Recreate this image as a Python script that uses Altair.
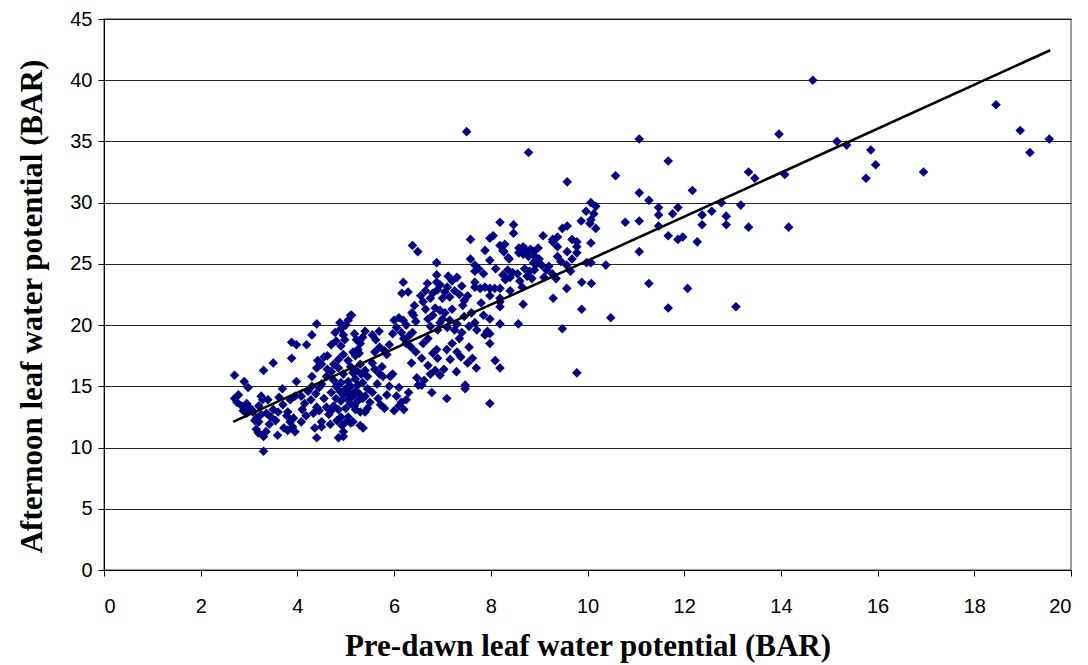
import altair as alt
import pandas as pd

# (pre-dawn, afternoon) readings, grouped by pre-dawn range
group_a = [(2.70,15.9),(2.70,14.0),(2.78,14.3),(2.90,15.4),(2.98,14.9),(2.75,13.7),(2.85,13.4),(2.95,13.6),
           (2.88,13.0),(3.00,13.3),(2.95,12.8),(3.05,13.1),(3.08,12.9),(3.15,12.4),(3.20,12.1),(3.25,12.7),
           (3.12,12.2),(3.20,13.4),(3.28,13.9),(3.25,14.2),(3.39,13.9),(3.36,12.8),(3.19,11.2),(3.30,10.9),
           (3.30,9.7),(3.30,16.3),(3.50,16.9),(3.50,13.1),(3.45,12.5),(3.42,11.9),(3.15,11.5),(3.35,11.3)]
group_b = [(3.59,11.0),(3.69,14.8),(3.55,12.2),(3.60,12.9),(3.78,12.6),(3.85,12.1),(3.80,11.4),(3.90,11.7),
           (3.95,11.3),(3.72,11.6),(3.98,15.4),(3.88,17.3),(3.88,18.6),(3.98,18.4),(3.70,13.5),(3.85,13.9),
           (3.95,14.2),(3.62,14.1),(3.80,12.9),(3.92,12.4)]
group_c = [(4.19,18.4),(4.30,19.2),(4.40,20.1),(4.08,14.2),(4.10,13.1),(4.15,13.6),(4.08,12.1),(4.18,12.6),
           (4.33,12.8),(4.40,13.3),(4.45,13.0),(4.36,11.6),(4.40,10.8),(4.50,12.1),(4.50,11.7),(4.30,15.8),
           (4.40,16.5),(4.50,16.8),(4.42,17.1),(4.55,17.4),(4.30,15.0),(4.45,14.9),(4.50,15.2),(4.38,14.4),
           (4.22,14.6),(4.28,13.9)]
group_d = [(4.62,17.5),(4.70,18.4),(4.80,18.7),(4.90,18.3),(4.95,17.6),(4.90,19.7),(5.00,20.0),(5.05,20.4),
           (5.10,20.8),(4.95,19.2),(4.70,16.2),(4.75,15.5),(4.80,15.0),(4.70,14.5),(4.80,14.0),(4.75,13.4),
           (4.85,13.1),(4.90,12.5),(4.92,11.8),(4.95,10.9),(4.85,16.5),(4.95,16.0),(4.90,15.3),(5.00,14.8),
           (4.95,14.3),(4.90,13.8),(5.00,13.2),(4.60,13.3),(4.65,12.7),(4.55,14.0),(4.60,15.8),(4.85,17.2),
           (4.75,16.8),(4.88,14.6),(4.82,12.2),(4.68,11.9),(4.98,12.0),(4.95,11.3),(4.85,10.8),(4.70,13.0),
           (4.62,16.4),(4.78,19.4),(4.88,20.2),(4.98,18.8)]
group_e = [(5.05,17.1),(5.10,16.6),(5.15,16.1),(5.20,15.6),(5.05,15.4),(5.10,15.0),(5.20,14.6),(5.15,14.2),
           (5.25,13.8),(5.10,13.6),(5.20,13.1),(5.30,12.9),(5.05,12.5),(5.15,12.1),(5.30,11.8),(5.36,11.6),
           (5.20,17.5),(5.25,18.0),(5.30,18.5),(5.35,19.0),(5.40,19.5),(5.30,16.8),(5.40,16.3),(5.45,15.8),
           (5.35,15.3),(5.45,14.8),(5.40,14.2),(5.50,13.7),(5.45,13.2),(5.12,20.8),(5.18,19.3),(5.22,18.8),
           (5.28,17.7),(5.08,14.4),(5.18,13.4),(5.25,15.1),(5.35,14.0),(5.05,13.9),(5.15,17.8),(5.40,12.9),
           (5.10,12.0),(5.22,16.3),(5.32,16.0),(5.28,14.4)]
group_f = [(5.55,16.9),(5.60,16.4),(5.70,16.0),(5.77,15.8),(5.65,15.2),(5.67,14.0),(5.60,17.8),(5.70,18.2),
           (5.80,17.9),(5.90,18.4),(5.69,19.5),(5.55,14.5),(5.72,13.5),(5.85,14.3),(5.90,15.0),(5.97,16.0),
           (5.97,19.3),(5.55,19.2),(5.85,17.6),(5.75,16.6),(5.62,18.8),(5.80,13.2),(5.92,15.8)]
group_g = [(6.00,20.4),(6.05,19.8),(6.10,20.6),(6.19,20.4),(6.15,19.4),(6.20,18.9),(6.25,18.5),(6.30,19.1),
           (6.35,18.2),(6.45,17.8),(6.38,19.4),(6.36,16.9),(6.47,15.7),(6.50,15.1),(6.10,14.9),(6.05,14.2),
           (6.15,13.7),(6.20,13.1),(6.25,13.9),(6.10,13.4),(6.38,26.5),(6.49,26.0),(6.19,23.5),(6.16,22.6),
           (6.29,22.7),(6.37,21.0),(6.42,21.6),(6.45,20.3),(6.00,13.0),(6.30,14.5),(6.40,20.8),(6.25,20.0)]
group_h = [(6.57,17.3),(6.57,15.1),(6.60,21.9),(6.65,21.3),(6.70,20.5),(6.75,19.9),(6.80,20.8),(6.85,21.4),
           (6.90,19.6),(6.95,20.2),(6.70,16.7),(6.75,16.0),(6.85,16.3),(6.95,15.9),(6.88,18.0),(6.69,23.4),
           (6.88,24.1),(6.88,23.5),(6.88,25.1),(6.65,22.8),(6.75,22.2),(6.80,22.6),(6.90,22.9),(6.95,23.3),
           (6.60,18.5),(6.70,18.9),(6.90,17.3),(6.55,22.4),(6.78,14.5),(6.62,15.5),(6.80,17.7),(6.95,21.2)]
group_i = [(7.00,22.2),(7.05,22.7),(7.10,23.1),(7.15,22.3),(7.20,23.6),(7.25,22.8),(7.30,23.9),(7.35,22.5),
           (7.40,23.2),(7.45,22.0),(7.00,20.5),(7.05,21.0),(7.10,19.8),(7.15,20.4),(7.20,21.3),(7.25,19.6),
           (7.30,20.1),(7.35,18.9),(7.40,19.4),(7.45,20.7),(7.09,18.0),(7.16,17.2),(7.29,16.2),(7.09,14.0),
           (7.47,15.1),(7.47,14.8),(7.30,17.8),(7.38,17.4),(7.03,16.4),(7.20,18.5),(7.42,21.6),(7.12,24.0)]
group_j = [(7.50,35.8),(7.58,27.0),(7.58,25.4),(7.67,24.9),(7.67,24.4),(7.67,23.5),(7.67,23.1),(7.78,23.0),
           (7.88,23.1),(7.98,23.0),(7.85,24.2),(7.75,24.6),(7.88,26.1),(7.98,25.3),(7.98,22.4),(7.67,20.2),
           (7.71,19.6),(7.88,19.2),(7.93,19.5),(7.98,19.3),(7.98,18.5),(7.98,20.5),(7.98,13.6),(7.55,19.9),
           (7.60,21.0),(7.52,22.4),(7.55,18.2),(7.62,17.3),(7.80,21.8),(7.70,16.5),(7.85,20.8),(7.52,16.9)]
group_k = [(8.05,27.3),(8.09,17.1),(8.19,16.5),(8.19,20.1),(8.19,21.5),(8.19,21.9),(8.19,22.2),(8.19,23.0),
           (8.19,28.4),(8.19,26.5),(8.25,26.1),(8.27,26.0),(8.29,26.6),(8.36,25.5),(8.38,25.4),(8.08,23.0),
           (8.25,24.1),(8.30,23.7),(8.35,24.5),(8.40,23.9),(8.45,24.3),(8.47,28.2),(8.47,27.5),(8.10,24.6),
           (8.40,22.8),(7.98,27.1)]
group_l = [(8.57,20.1),(8.58,26.3),(8.67,26.4),(8.67,25.8),(8.58,25.9),(8.78,25.6),(8.88,25.1),(8.88,26.0),
           (8.98,26.3),(8.67,21.7),(8.78,34.1),(8.55,24.2),(8.60,23.6),(8.70,24.6),(8.75,24.0),(8.80,24.4),
           (8.85,23.8),(8.90,24.5),(8.95,25.0),(8.72,26.1),(8.82,26.2),(8.92,25.6),(8.65,23.1)]
group_m = [(9.08,27.3),(9.28,27.0),(9.38,27.2),(9.28,26.8),(9.38,26.4),(9.38,25.6),(9.05,24.9),(9.15,24.5),
           (9.10,23.9),(9.20,24.8),(9.27,24.2),(9.29,22.2),(9.48,19.7),(9.48,27.9),(9.45,25.2),(9.35,23.8),
           (9.00,25.4)]
group_n = [(9.58,28.1),(9.68,27.0),(9.78,26.8),(9.78,26.4),(9.58,26.0),(9.68,25.4),(9.57,23.0),(9.58,31.7),
           (9.57,24.9),(9.78,16.1),(9.88,23.5),(9.88,21.3),(9.87,28.5),(9.97,29.3),(9.98,25.1),(9.65,24.4),
           (9.78,25.9)]
group_o = [(10.07,30.0),(10.17,29.7),(10.07,28.6),(10.17,27.9),(10.07,26.7),(10.07,25.1),(10.08,23.4),
           (10.38,24.9),(10.48,20.6),(10.58,32.2),(10.13,29.1),(10.05,28.3)]
group_p = [(10.78,28.4),(11.07,35.2),(11.07,30.8),(11.07,28.5),(11.07,26.0),(11.27,30.2),(11.27,23.4),
           (11.47,29.6),(11.47,29.0),(11.47,28.1),(11.67,33.4),(11.67,27.3),(11.67,21.4),(11.76,29.1),
           (11.87,29.6),(11.87,27.0),(11.97,27.2),(12.07,23.0),(12.17,31.0),(12.27,26.8),(12.37,29.0),
           (12.37,28.2),(12.57,29.3),(12.77,30.0),(12.87,28.9),(12.87,28.2),(13.07,21.5),(13.17,29.8),
           (13.33,32.5),(13.33,28.0),(13.46,32.0),(13.96,35.6),(14.08,32.3),(14.16,28.0),(14.66,40.0),
           (15.16,35.0),(15.36,34.7),(15.76,32.0),(15.86,34.3),(15.96,33.1),(16.95,32.5),(18.45,38.0),
           (18.95,35.9),(19.15,34.1),(19.55,35.2)]

# trend line end points
line_x = [2.67, 19.57]
line_y = [12.1, 42.45]

x_ticks = list(range(0, 21, 2))
y_ticks = list(range(0, 46, 5))

groups = [group_a, group_b, group_c, group_d, group_e, group_f, group_g, group_h,
          group_i, group_j, group_k, group_l, group_m, group_n, group_o, group_p]
df = pd.DataFrame([{"pre": x, "aft": y} for g in groups for (x, y) in g])
ldf = pd.DataFrame({"pre": line_x, "aft": line_y})

xscale = alt.Scale(domain=[0, 20], nice=False, zero=False)
yscale = alt.Scale(domain=[0, 45], nice=False)

x_axis = alt.Axis(values=x_ticks, grid=False, title="Pre-dawn leaf water potential (BAR)",
                  titleY=76, titleBaseline="middle", labelPadding=20)
y_axis = alt.Axis(values=y_ticks, grid=True, title="Afternoon leaf water potential (BAR)",
                  titleX=-72, titleY=287, titleBaseline="middle", titleAngle=-90, titleAlign="center",
                  labelPadding=6)

points = alt.Chart(df).mark_point(shape="diamond", filled=True, size=92, color="#000080", opacity=1).encode(
    x=alt.X("pre:Q", scale=xscale, axis=x_axis),
    y=alt.Y("aft:Q", scale=yscale, axis=y_axis),
)
line = alt.Chart(ldf).mark_line(color="black", strokeWidth=2.6).encode(
    x=alt.X("pre:Q", scale=xscale),
    y=alt.Y("aft:Q", scale=yscale),
)

chart = alt.layer(points, line).properties(
    width=967, height=551,
    padding={"left": 104, "top": 19, "right": 17, "bottom": 95},
    autosize=alt.AutoSizeParams(type="none"),
    background="white",
).configure_view(
    stroke="#808080", strokeWidth=1.5
).configure_axis(
    labelFont="Liberation Sans", labelFontSize=20, labelColor="black",
    tickColor="black", tickSize=6, tickWidth=1,
    domainColor="black", domainWidth=1,
    gridColor="black", gridWidth=1, gridOpacity=0.85,
    titleFont="Liberation Serif", titleFontWeight="bold", titleFontSize=31, titleColor="black",
)

chart.save("out.html", embed_options={"renderer": "svg", "actions": False})
